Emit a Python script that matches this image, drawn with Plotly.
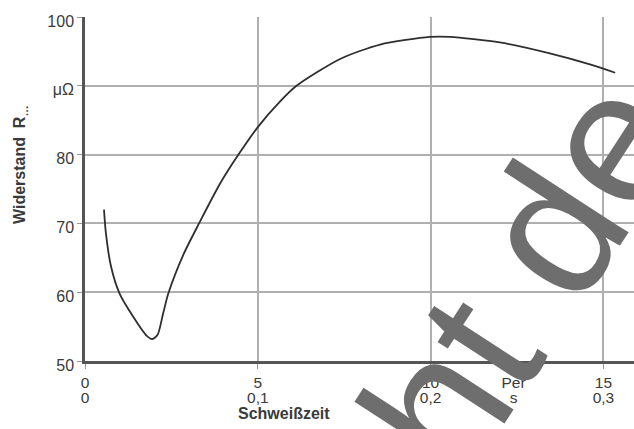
import plotly.graph_objects as go

# --- data ---
weld_time_per = [0.55, 0.6, 0.75, 1.0, 1.4, 1.78, 1.95, 2.1, 2.26, 2.41, 2.85, 3.3, 3.91, 4.44, 5.0,
                 5.64, 6.12, 7.38, 8.54, 9.98, 10.56, 12.0, 13.45, 14.61, 15.34]
resistance_uohm = [72.0, 68.8, 63.8, 59.8, 56.4, 53.7, 53.2, 53.8, 56.9, 59.8, 65.5, 70.0, 75.8, 80.0, 84.0,
                   87.7, 90.0, 93.9, 96.0, 97.1, 97.1, 96.3, 94.7, 93.1, 91.9]

x_tick_vals = [0, 5, 10, 12.4, 15]
x_tick_line1 = ["0", "5", "10", "Per", "15"]
x_tick_line2 = ["0", "0,1", "0,2", "s", "0,3"]
x_grid_vals = [0, 5, 10, 15]

y_tick_vals = [50, 60, 70, 80, 90, 100]
y_tick_text = ["50", "60", "70", "80", "μΩ", "100"]

x_title = "Schweißzeit"
y_title = "Widerstand  R<sub>…</sub>"
watermark = "nicht de"

FONT = "Liberation Sans, Arial, sans-serif"
TXT = "#3a3a3a"
W, H = 634, 429
L, R, T, B = 85, 0, 17, 68
PW, PH = W - L - R, H - T - B


def px_x(px):
    return (px - L) / PW


def px_y(py):
    return (H - B - py) / PH


fig = go.Figure()
fig.add_trace(go.Scatter(
    x=weld_time_per, y=resistance_uohm, mode="lines",
    line=dict(color="#2e2e2e", width=1.8, shape="spline", smoothing=0.7),
    showlegend=False, hoverinfo="skip",
))
# overlaying axis that carries the second line of x tick labels
fig.add_trace(go.Scatter(x=[0], y=[None], xaxis="x2", mode="lines",
                         showlegend=False, hoverinfo="skip"))

fig.update_layout(
    width=W, height=H,
    margin=dict(l=L, r=R, t=T, b=B),
    paper_bgcolor="white", plot_bgcolor="white",
    font=dict(family=FONT, size=15, color=TXT),
    xaxis=dict(
        range=[0, 15.885], tickmode="array", tickvals=x_tick_vals, ticktext=x_tick_line1,
        showgrid=False, zeroline=False, showline=True, linecolor="#555555", linewidth=2.5,
        ticks="", ticklabelstandoff=6, tickfont=dict(size=15.5, color=TXT),
        minor=dict(tickmode="array", tickvals=x_grid_vals, showgrid=True,
                   gridcolor="#b0b0b0", gridwidth=1.5, ticks="outside", ticklen=5,
                   tickcolor="#999999", tickwidth=1),
    ),
    xaxis2=dict(
        overlaying="x", anchor="y", side="bottom", matches="x",
        tickmode="array", tickvals=x_tick_vals, ticktext=x_tick_line2,
        showgrid=False, zeroline=False, showline=False, ticks="",
        ticklabelstandoff=25, tickfont=dict(size=15.5, color=TXT),
    ),
    yaxis=dict(
        range=[50, 100], tickmode="array", tickvals=y_tick_vals, ticktext=y_tick_text,
        showgrid=True, gridcolor="#b0b0b0", gridwidth=1.5, zeroline=False,
        showline=True, linecolor="#555555", linewidth=2.5,
        ticks="outside", ticklen=5, tickcolor="#999999", tickwidth=1,
        ticklabelshift=4, tickfont=dict(size=16, color=TXT),
    ),
    annotations=[
        dict(text=y_title, xref="paper", yref="paper", x=px_x(20), y=px_y(165),
             textangle=-90, xanchor="center", yanchor="middle", showarrow=False,
             font=dict(size=16, color=TXT, family=FONT, weight="bold")),
        dict(text=x_title, xref="paper", yref="paper", x=px_x(284), y=px_y(413),
             xanchor="center", yanchor="middle", showarrow=False,
             font=dict(size=16, color=TXT, family=FONT, weight="bold")),
        dict(text=watermark, xref="paper", yref="paper", x=px_x(456), y=px_y(377),
             xanchor="center", yanchor="middle", textangle=-57, showarrow=False,
             font=dict(size=190, color="#6e6e6e", family=FONT)),
    ],
)

fig.write_html("out.html", config={"displayModeBar": False},
               post_script="document.body.style.margin='0';")
